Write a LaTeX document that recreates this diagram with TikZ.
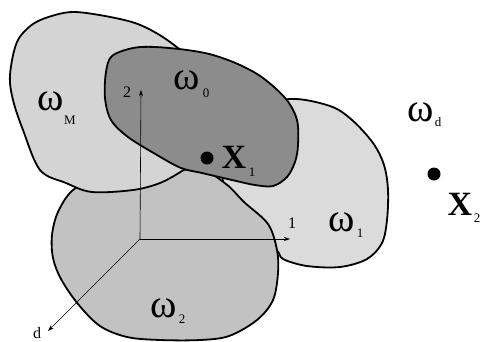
\documentclass[tikz,border=0pt]{standalone}
\usepackage{fontspec}
\setmainfont{Liberation Serif}
\usetikzlibrary{arrows.meta}
\begin{document}
\begin{tikzpicture}[x=1pt,y=-1pt,
 region/.style={draw=black,line width=1.8pt,line join=round},
 axis/.style={line width=0.6pt,-{Stealth[length=6pt,width=4pt]}},
 om/.style={font=\fontsize{40}{44}\selectfont,inner sep=0pt},
 sub/.style={font=\fontsize{13}{15}\selectfont,inner sep=0pt},
 bx/.style={font=\fontsize{34}{38}\selectfont\bfseries,inner sep=0pt},
 axlab/.style={font=\fontsize{16}{18}\selectfont,inner sep=0pt},
 dotpt/.style={circle,fill=black,minimum size=13pt,inner sep=0pt}]
\useasboundingbox (0,0) rectangle (481,341);
% omega_1
\draw[region,fill=black!14] plot[smooth cycle,tension=0.55] coordinates {
 (290,99) (330,106) (352,120) (373,143) (384,165) (388,190) (387,220) (382,243)
 (367,259) (340,267) (307,266) (283,259) (276,250) (250,238) (222,172) (252,112)};
% omega_2
\draw[region,fill=black!24] plot[smooth cycle,tension=0.55] coordinates {
 (73,190) (58,212) (52,235) (53,258) (61,279) (78,304) (100,326) (127,337)
 (160,340) (200,340) (229,336) (257,320) (273,300) (278,273) (277,250) (268,224)
 (244,202) (226,184) (200,170) (150,172) (100,178)};
% omega_M
\draw[region,fill=black!17] plot[smooth cycle,tension=0.55] coordinates {
 (40,170) (23,130) (13,100) (10,75) (17,42) (33,24) (55,15) (75,12) (105,16)
 (135,23) (158,34) (178,48) (205,70) (210,130) (192,163) (182,171) (160,183)
 (133,190) (92,192) (66,183)};
% omega_0
\draw[region,fill=black!45] plot[smooth cycle,tension=0.55] coordinates {
 (112,56) (133,48) (155,47) (187,50) (213,55) (240,65) (263,78) (286,99)
 (297,120) (298,145) (295,162) (287,177) (273,186) (255,185) (232,180) (202,173)
 (181,168) (157,155) (128,137) (111,120) (105,98) (106,72)};
% axes
\coordinate (O) at (140,239);
\coordinate (A1) at (290,239);
\coordinate (A2) at (141,90);
\coordinate (Ad) at (48,331);
\draw[axis] (O) -- (A1);
\draw[axis] (O) -- (A2);
\draw[axis] (O) -- (Ad);
\node[axlab] (l1) at (292,223) {1};
\node[axlab] (l2) at (127,92) {2};
\node[axlab] (ld) at (37,333) {d};
% labels
\node[om] (wM) at (51,101) {ω};
\node[sub] (sM) at (70,120) {M};
\node[om] (w0) at (187,80) {ω};
\node[sub] (s0) at (206,93) {0};
\node[om] (wd) at (421,112) {ω};
\node[sub] (sd) at (438,122) {d};
\node[om] (w1) at (342,222) {ω};
\node[sub] (s1) at (360,233) {1};
\node[om] (w2) at (164,308) {ω};
\node[sub] (s2) at (182,319) {2};
% points
\node[dotpt] (p1) at (207,158) {};
\node[bx] (x1) at (234,157) {X};
\node[sub] (xs1) at (252,172) {1};
\node[dotpt] (p2) at (434,174) {};
\node[bx] (x2) at (460,204) {X};
\node[sub] (xs2) at (477,218) {2};
\end{tikzpicture}
\end{document}
